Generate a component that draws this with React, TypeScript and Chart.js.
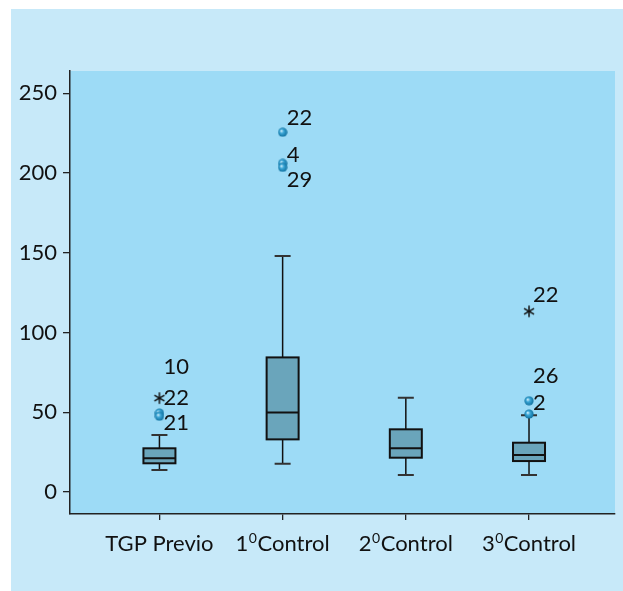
import React, { useEffect, useRef } from "react";
import { Chart, registerables } from "chart.js";

Chart.register(...registerables);

const categories = ["TGP Previo", "1⁰Control", "2⁰Control", "3⁰Control"];
const whiskerLow = [13.8, 17.7, 10.7, 10.7];
const q1 = [18.0, 33.0, 21.5, 19.4];
const median = [21.1, 49.9, 27.4, 23.2];
const q3 = [27.4, 84.4, 39.3, 30.9];
const whiskerHigh = [35.7, 148.0, 59.1, 48.2];

const yTicks = [0, 50, 100, 150, 200, 250];

// outliers
const outlierCategory = [0, 0, 0, 0, 1, 1, 1, 3, 3, 3];
const outlierValue = [49.5, 47.5, 58.9, 78.5, 225.6, 206.1, 203.6, 113.3, 57.2, 48.9];
const outlierKind = ["ball", "ball", "star", "none", "ball", "ball", "ball", "star", "ball", "ball"];
const outlierLabel = ["", "21", "22", "10", "22", "4", "29", "22", "26", "2"];
const labelShiftPx = [0, 6.5, 0, 0, -14, -8, 13, -16.5, -25, -11];

const FONT = "Lato, 'Open Sans', sans-serif";

function makeBall(): HTMLCanvasElement {
  const c = document.createElement("canvas");
  c.width = 10;
  c.height = 10;
  const g = c.getContext("2d")!;
  const grad = g.createRadialGradient(3.6, 3.6, 0.4, 5, 5, 5);
  grad.addColorStop(0, "#c8ecfa");
  grad.addColorStop(0.35, "#3ba7d7");
  grad.addColorStop(1, "#0a6a98");
  g.fillStyle = grad;
  g.beginPath();
  g.arc(5, 5, 4.6, 0, Math.PI * 2);
  g.fill();
  return c;
}

function makeStar(): HTMLCanvasElement {
  const c = document.createElement("canvas");
  c.width = 14;
  c.height = 14;
  const g = c.getContext("2d")!;
  g.strokeStyle = "#111";
  g.lineWidth = 1.5;
  g.lineCap = "butt";
  for (let k = 0; k < 3; k++) {
    const a = Math.PI / 2 + (k * Math.PI) / 3;
    g.beginPath();
    g.moveTo(7 - Math.cos(a) * 5.8, 7 - Math.sin(a) * 5.8);
    g.lineTo(7 + Math.cos(a) * 5.8, 7 + Math.sin(a) * 5.8);
    g.stroke();
  }
  return c;
}

const bgPlugin = {
  id: "bgPlugin",
  beforeDraw(chart: any) {
    const { ctx, chartArea, width, height } = chart;
    ctx.save();
    ctx.fillStyle = "#ffffff";
    ctx.fillRect(0, 0, width, height);
    ctx.fillStyle = "#c7e9f9";
    ctx.fillRect(11, 9, width - 11, height - 9);
    ctx.fillStyle = "#9ddbf6";
    ctx.fillRect(chartArea.left, chartArea.top, chartArea.right - chartArea.left, chartArea.bottom - chartArea.top);
    ctx.restore();
  },
};

const boxPlugin = {
  id: "boxPlugin",
  beforeDatasetsDraw(chart: any) {
    const { ctx } = chart;
    const xs = chart.scales.x;
    const ys = chart.scales.y;
    ctx.save();
    categories.forEach((_, i) => {
      const x = xs.getPixelForValue(i);
      const half = 16;
      const cap = 8;
      const yq1 = ys.getPixelForValue(q1[i]);
      const yq3 = ys.getPixelForValue(q3[i]);
      const ym = ys.getPixelForValue(median[i]);
      const ylo = ys.getPixelForValue(whiskerLow[i]);
      const yhi = ys.getPixelForValue(whiskerHigh[i]);
      ctx.strokeStyle = "#111";
      ctx.lineWidth = 1.5;
      ctx.beginPath();
      ctx.moveTo(x, yq3);
      ctx.lineTo(x, yhi);
      ctx.moveTo(x, yq1);
      ctx.lineTo(x, ylo);
      ctx.stroke();
      ctx.strokeStyle = "#333";
      ctx.lineWidth = 2;
      ctx.beginPath();
      ctx.moveTo(x - cap, yhi);
      ctx.lineTo(x + cap, yhi);
      ctx.moveTo(x - cap, ylo);
      ctx.lineTo(x + cap, ylo);
      ctx.stroke();
      ctx.fillStyle = "#6aa5bb";
      ctx.fillRect(x - half, yq3, half * 2, yq1 - yq3);
      ctx.strokeStyle = "#111";
      ctx.lineWidth = 2;
      ctx.strokeRect(x - half, yq3, half * 2, yq1 - yq3);
      ctx.beginPath();
      ctx.moveTo(x - half, ym);
      ctx.lineTo(x + half, ym);
      ctx.stroke();
    });
    ctx.restore();
  },
};

const labelPlugin = {
  id: "labelPlugin",
  afterDatasetsDraw(chart: any) {
    const { ctx } = chart;
    const xs = chart.scales.x;
    const ys = chart.scales.y;
    ctx.save();
    ctx.fillStyle = "#111";
    ctx.font = `22px ${FONT}`;
    ctx.textBaseline = "middle";
    ctx.textAlign = "left";
    outlierLabel.forEach((lab, i) => {
      if (!lab) return;
      const x = xs.getPixelForValue(outlierCategory[i]) + 4;
      const y = ys.getPixelForValue(outlierValue[i]) + labelShiftPx[i];
      ctx.fillText(lab, x, y);
    });
    ctx.textBaseline = "alphabetic";
    const base = chart.chartArea.bottom + 37;
    categories.forEach((cat, i) => {
      const parts = cat.split("⁰");
      const cx = xs.getPixelForValue(i);
      ctx.font = `22px ${FONT}`;
      const w0 = ctx.measureText(parts[0]).width;
      const w2 = parts.length > 1 ? ctx.measureText(parts[1]).width : 0;
      ctx.font = `14px ${FONT}`;
      const w1 = parts.length > 1 ? ctx.measureText("0").width + 1 : 0;
      let x = cx - (w0 + w1 + w2) / 2;
      ctx.font = `22px ${FONT}`;
      ctx.fillText(parts[0], x, base);
      x += w0;
      if (parts.length > 1) {
        ctx.font = `14px ${FONT}`;
        ctx.fillText("0", x + 0.5, base - 8);
        x += w1;
        ctx.font = `22px ${FONT}`;
        ctx.fillText(parts[1], x, base);
      }
    });
    ctx.restore();
  },
};

export default function App() {
  const ref = useRef<HTMLCanvasElement | null>(null);
  useEffect(() => {
    document.body.style.margin = "0";
    document.body.style.overflow = "hidden";
    document.documentElement.style.overflow = "hidden";
    const ball = makeBall();
    const star = makeStar();
    const ballPts: any[] = [];
    const starPts: any[] = [];
    outlierKind.forEach((k, i) => {
      const p = { x: outlierCategory[i], y: outlierValue[i] };
      if (k === "ball") ballPts.push(p);
      else if (k === "star") starPts.push(p);
    });
    const chart = new Chart(ref.current!, {
      type: "scatter",
      data: {
        datasets: [
          { data: ballPts, pointStyle: ball as any, pointRadius: 5 },
          { data: starPts, pointStyle: star as any, pointRadius: 7 },
        ],
      },
      options: {
        animation: false,
        responsive: false,
        events: [],
        layout: { padding: { top: 71, right: 0, bottom: 0, left: 0 } },
        plugins: { legend: { display: false }, tooltip: { enabled: false } },
        scales: {
          x: {
            type: "linear",
            min: -0.726,
            max: 3.698,
            afterBuildTicks: (axis: any) => {
              axis.ticks = categories.map((_, i) => ({ value: i }));
            },
            afterFit: (axis: any) => {
              axis.height = 77;
            },
            ticks: { display: false },
            grid: { drawOnChartArea: false, drawTicks: true, tickLength: 6, color: "#222", lineWidth: 1.3 },
            border: { display: true, color: "#222", width: 1.5 },
          },
          y: {
            type: "linear",
            min: -13.8,
            max: 264,
            afterBuildTicks: (axis: any) => {
              axis.ticks = yTicks.map((v) => ({ value: v }));
            },
            afterFit: (axis: any) => {
              axis.width = 70;
            },
            ticks: { color: "#111", font: { family: FONT, size: 22 }, padding: 6 },
            grid: { drawOnChartArea: false, drawTicks: true, tickLength: 7, color: "#222", lineWidth: 1.3 },
            border: { display: true, color: "#222", width: 1.5 },
          },
        },
      },
      plugins: [bgPlugin, boxPlugin, labelPlugin],
    });
    return () => chart.destroy();
  }, []);
  return (
    <div style={{ width: 623, height: 591, overflow: "hidden" }}>
      <canvas ref={ref} width={623} height={591} style={{ display: "block", width: 623, height: 591 }} />
    </div>
  );
}
